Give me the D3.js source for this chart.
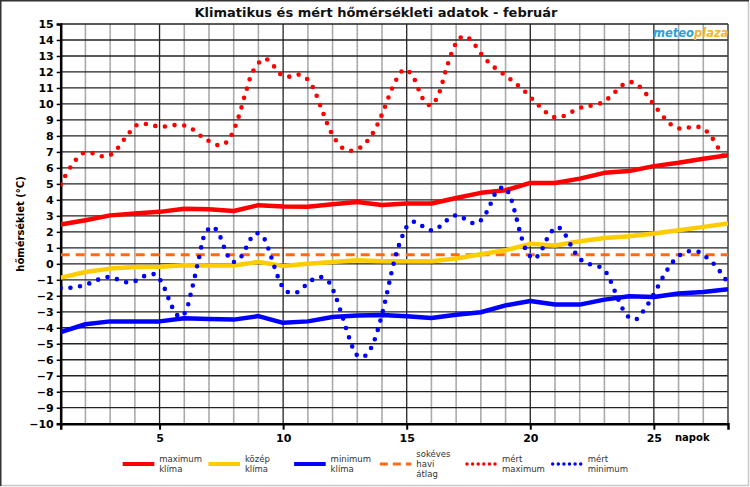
<!DOCTYPE html>
<html>
<head>
<meta charset="utf-8">
<script src="https://cdn.jsdelivr.net/npm/d3@7"></script>
<style>
body{margin:0;background:#fff;}
svg{display:block;font-family:"DejaVu Sans",sans-serif;}
</style>
</head>
<body>
<svg id="chart" width="750" height="487"></svg>
<script>
// klima adatok, naponta (1..28)
var days = d3.range(1, 29)
var maxKlima = [2.46,2.73,3.03,3.15,3.25,3.45,3.42,3.3,3.67,3.58,3.57,3.73,3.87,3.68,3.77,3.77,4.12,4.44,4.6,5.06,5.06,5.33,5.69,5.8,6.11,6.32,6.57,6.8]
var kozepKlima = [-0.86,-0.51,-0.3,-0.2,-0.18,-0.09,-0.1,-0.1,0.12,-0.14,0.0,0.12,0.22,0.16,0.16,0.16,0.33,0.6,0.85,1.25,1.15,1.41,1.62,1.73,1.9,2.1,2.31,2.52]
var minKlima = [-4.27,-3.78,-3.6,-3.6,-3.6,-3.41,-3.45,-3.49,-3.27,-3.69,-3.6,-3.33,-3.24,-3.2,-3.28,-3.39,-3.18,-3.03,-2.6,-2.33,-2.55,-2.55,-2.24,-2.03,-2.07,-1.86,-1.76,-1.59]
var sokeves = 0.56

// mert adatok (nap, ertek)
var mertMaxDays = [1.0,1.4,1.9,2.3,2.7,3.1,3.6,4.1,4.6,5.0,5.8,6.2,6.8,7.5,7.85,8.2,8.5,8.8,9.25,9.6,9.9,10.2,10.55,10.9,11.2,11.6,11.95,12.4,12.75,13.15,13.6,14.0,14.4,14.65,14.9,15.2,15.5,15.75,16.0,16.3,16.6,16.9,17.1,17.36,17.7,18.1,18.5,19.1,19.7,20.3,20.9,21.3,21.7,22.1,22.4,22.85,23.2,23.8,24.15,24.5,25.0,25.5,25.8,26.15,26.55,26.95,27.3,27.7,28.0]
var mertMaxVals = [4.96,6.05,6.92,6.92,6.72,6.9,7.84,8.7,8.72,8.57,8.69,8.55,7.86,7.4,7.9,9.2,10.8,12.1,12.83,12.4,11.85,11.7,11.85,11.65,11.05,9.5,8.2,7.25,7.07,7.3,8.1,9.35,10.95,11.7,12.16,11.85,10.85,10.1,9.91,10.65,12.2,13.5,14.05,14.25,13.8,12.95,12.35,11.66,10.9,9.97,9.2,9.22,9.52,9.8,9.88,10.05,10.4,11.25,11.35,10.97,9.95,9.0,8.6,8.44,8.57,8.5,8.0,7.0,6.3]
var mertMinDays = [1.0,1.4,1.8,2.2,2.55,2.93,3.3,3.7,4.1,4.45,4.83,5.1,5.4,5.65,5.85,6.05,6.3,6.6,6.85,7.15,7.45,7.7,7.95,8.2,8.45,8.7,8.9,9.2,9.5,9.8,10.1,10.5,10.85,11.15,11.5,11.85,12.1,12.4,12.7,12.95,13.18,13.4,13.65,13.9,14.15,14.4,14.65,14.9,15.1,15.4,15.75,16.1,16.45,16.8,17.1,17.45,17.8,18.1,18.35,18.65,18.95,19.2,19.4,19.6,19.85,20.15,20.45,20.8,21.1,21.4,21.75,22.05,22.35,22.75,23.05,23.4,23.75,24.0,24.28,24.6,25.0,25.4,25.8,26.15,26.5,26.9,27.2,27.5,27.75,28.0]
var mertMinVals = [-1.51,-1.5,-1.4,-1.2,-0.97,-0.82,-0.97,-1.16,-1.03,-0.72,-0.67,-1.2,-2.3,-3.1,-3.33,-3.0,-1.64,0.4,1.9,2.33,1.7,0.7,0.12,0.25,0.85,1.6,1.92,1.65,0.5,-0.85,-1.68,-1.82,-1.42,-1.03,-0.82,-1.14,-1.95,-3.3,-4.75,-5.65,-5.85,-5.65,-4.95,-3.75,-2.2,-0.45,1.0,2.0,2.52,2.62,2.23,2.1,2.48,2.93,3.04,2.7,2.52,2.9,3.6,4.55,4.8,4.15,3.1,1.9,0.8,0.3,0.85,1.9,2.3,1.85,0.85,0.25,0.0,-0.15,-0.5,-1.64,-2.85,-3.35,-3.47,-2.9,-1.9,-0.75,0.18,0.64,0.8,0.7,0.3,-0.12,-0.64,-1.2]

var xTicks = [5,10,15,20,25]
var yTicks = d3.range(-10, 16)
var legendLabels = [["maximum","klíma"],["közép","klíma"],["minimum","klíma"],["sokéves","havi","átlag"],["mért","maximum"],["mért","minimum"]]

var svg = d3.select("#chart")
var x = d3.scaleLinear().domain([1,28]).range([60.7,728])
var y = d3.scaleLinear().domain([-10,15]).range([423.7,24])

// keret
svg.append("rect").attr("x",0).attr("y",0).attr("width",750).attr("height",487).attr("fill","#fff")
svg.append("line").attr("x1",748.5).attr("x2",748.5).attr("y1",0).attr("y2",486).attr("stroke","#c8c8c8").attr("stroke-width",1.5)
svg.append("line").attr("x1",0).attr("x2",749).attr("y1",485.5).attr("y2",485.5).attr("stroke","#c8c8c8").attr("stroke-width",1.5)
svg.append("line").attr("x1",0.75).attr("x2",0.75).attr("y1",0).attr("y2",486).attr("stroke","#333").attr("stroke-width",1.5)
svg.append("line").attr("x1",0).attr("x2",749).attr("y1",0.75).attr("y2",0.75).attr("stroke","#333").attr("stroke-width",1.5)

svg.append("text").attr("x",376).attr("y",17).attr("text-anchor","middle")
	.attr("font-size","13px").attr("font-weight","bold").attr("fill","#111")
	.text("Klimatikus és mért hőmérsékleti adatok - február")

// racs
svg.append("g").selectAll("line").data(days.filter(function(d){ return d%5 != 0 }))
	.enter().append("line")
	.attr("x1",function(d){ return x(d) }).attr("x2",function(d){ return x(d) })
	.attr("y1",y(15)).attr("y2",y(-10))
	.attr("stroke","#aaa").attr("stroke-width",1.6)
svg.append("g").selectAll("line").data(yTicks)
	.enter().append("line")
	.attr("x1",x(1)).attr("x2",x(28))
	.attr("y1",function(d){ return y(d) }).attr("y2",function(d){ return y(d) })
	.attr("stroke","#222").attr("stroke-width",1.3)
svg.append("g").selectAll("line").data(xTicks)
	.enter().append("line")
	.attr("x1",function(d){ return x(d) }).attr("x2",function(d){ return x(d) })
	.attr("y1",y(15)).attr("y2",y(-10))
	.attr("stroke","#222").attr("stroke-width",1.3)
svg.append("line").attr("x1",x(28)).attr("x2",x(28)).attr("y1",y(15)).attr("y2",y(-10)).attr("stroke","#444").attr("stroke-width",1.3)

// tengelyek
var yAxis = svg.append("g").attr("transform","translate("+x(1)+",0)")
	.call(d3.axisLeft(y).tickValues(yTicks).tickSize(4).tickPadding(3).tickFormat(d3.format("d")))
yAxis.select(".domain").attr("stroke","#000").attr("stroke-width",2.5)
yAxis.selectAll(".tick line").attr("stroke","#000").attr("stroke-width",1.5)
yAxis.selectAll("text").attr("font-family","DejaVu Sans").attr("font-size","11px").attr("font-weight","bold").attr("fill","#000")

var xAxis = svg.append("g").attr("transform","translate(0,"+y(-10)+")")
	.call(d3.axisBottom(x).tickValues(xTicks).tickSize(6).tickPadding(5).tickFormat(d3.format("d")))
xAxis.select(".domain").attr("stroke","#000").attr("stroke-width",2.5)
xAxis.selectAll(".tick line").attr("stroke","#000").attr("stroke-width",2)
xAxis.selectAll("text").attr("font-family","DejaVu Sans").attr("font-size","11px").attr("font-weight","bold").attr("fill","#000")

svg.append("text").attr("x",675).attr("y",441).attr("font-size","10px").attr("font-weight","bold").text("napok")
svg.append("text").attr("transform","translate(24,224) rotate(-90)").attr("text-anchor","middle")
	.attr("font-size","10px").attr("font-weight","bold").text("hőmérséklet (°C)")

// logo
var logo = svg.append("text").attr("x",653).attr("y",37).attr("font-size","11.5px").attr("font-weight","bold").attr("font-style","italic")
logo.append("tspan").attr("fill","#2a9fe0").text("meteo")
logo.append("tspan").attr("fill","#f2b632").text("plaza")

// vonalak
svg.append("clipPath").attr("id","plot").append("rect")
	.attr("x",x(1)).attr("y",y(15)).attr("width",x(28)-x(1)).attr("height",y(-10)-y(15))
var line = d3.line().x(function(d){ return x(d[0]) }).y(function(d){ return y(d[1]) })
var smooth = d3.line().x(function(d){ return x(d[0]) }).y(function(d){ return y(d[1]) }).curve(d3.curveCatmullRom.alpha(0.5))
var plot = svg.append("g").attr("clip-path","url(#plot)")

plot.append("path").datum(days.map(function(d){ return [d, sokeves] }))
	.attr("d",line).attr("fill","none").attr("stroke","#ff6a10").attr("stroke-width",3).attr("stroke-dasharray","9,6")
plot.append("path").datum(d3.zip(days, kozepKlima))
	.attr("d",line).attr("fill","none").attr("stroke","#ffcc00").attr("stroke-width",4.5).attr("stroke-linejoin","round")
plot.append("path").datum(d3.zip(days, minKlima))
	.attr("d",line).attr("fill","none").attr("stroke","#0000ff").attr("stroke-width",4.5).attr("stroke-linejoin","round")
plot.append("path").datum(d3.zip(days, maxKlima))
	.attr("d",line).attr("fill","none").attr("stroke","#ff0000").attr("stroke-width",4.5).attr("stroke-linejoin","round")
plot.append("path").datum(d3.zip(mertMinDays, mertMinVals))
	.attr("d",smooth).attr("fill","none").attr("stroke","#0000ff").attr("stroke-width",4.6)
	.attr("stroke-linecap","round").attr("stroke-dasharray","0,9.7")
plot.append("path").datum(d3.zip(mertMaxDays, mertMaxVals))
	.attr("d",smooth).attr("fill","none").attr("stroke","#ff0000").attr("stroke-width",4.6)
	.attr("stroke-linecap","round").attr("stroke-dasharray","0,9.7")

// jelmagyarazat
var legendStyles = [
	{c:"#ff0000", w:4, dash:null, cap:"butt"},
	{c:"#ffcc00", w:4, dash:null, cap:"butt"},
	{c:"#0000ff", w:4, dash:null, cap:"butt"},
	{c:"#ff6a10", w:3, dash:"8,5", cap:"butt"},
	{c:"#ff0000", w:3.5, dash:"0,5.6", cap:"round"},
	{c:"#0000ff", w:3.5, dash:"0,5.6", cap:"round"}
]
var leg = svg.append("g").selectAll("g").data(legendLabels).enter().append("g")
	.attr("transform",function(d,i){ return "translate("+(122.7+i*85.7)+",464)" })
leg.append("line").attr("x1",function(d,i){ return legendStyles[i].cap=="round" ? 1.5 : 0 }).attr("x2",31.6).attr("y1",0).attr("y2",0)
	.attr("stroke",function(d,i){ return legendStyles[i].c })
	.attr("stroke-width",function(d,i){ return legendStyles[i].w })
	.attr("stroke-dasharray",function(d,i){ return legendStyles[i].dash })
	.attr("stroke-linecap",function(d,i){ return legendStyles[i].cap })
leg.append("text").attr("x",36.5).attr("font-size","8.5px").attr("fill","#333")
	.attr("y",function(d){ return d.length==3 ? -7 : -2 })
	.selectAll("tspan").data(function(d){ return d }).enter().append("tspan")
	.attr("x",36.5).attr("dy",function(d,i){ return i==0 ? 0 : 10 })
	.text(function(d){ return d })
</script>
</body>
</html>
